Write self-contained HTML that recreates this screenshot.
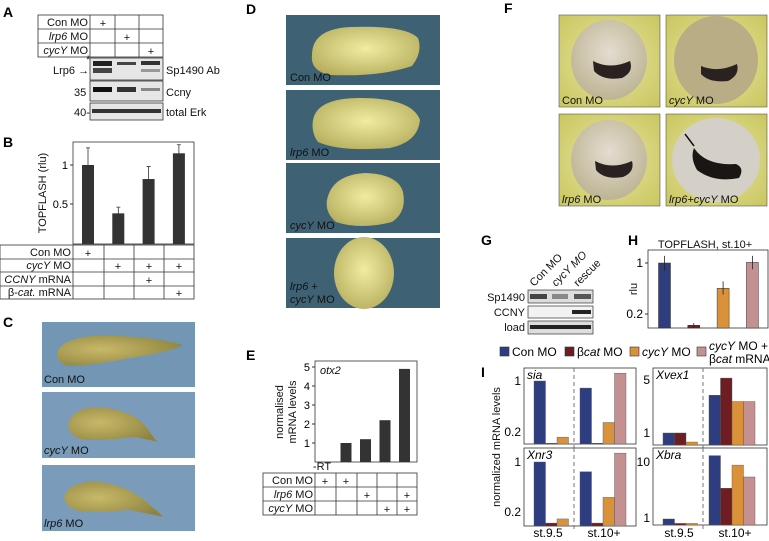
<!DOCTYPE html>
<html><head><meta charset="utf-8"><style>
body{margin:0;background:#fff;width:769px;height:541px;overflow:hidden}
svg{display:block;font-family:"Liberation Sans",sans-serif}
text{font-family:"Liberation Sans",sans-serif}
.lab{font-weight:bold;font-size:14px}
.t{font-size:11px;fill:#111}
.it{font-style:italic}
</style></head><body>
<svg id="fig" width="769" height="541" viewBox="0 0 769 541" xmlns="http://www.w3.org/2000/svg">
<defs>
<radialGradient id="emb" cx="50%" cy="45%" r="60%"><stop offset="0" stop-color="#f0eca0"/><stop offset="1" stop-color="#b8b060"/></radialGradient>
<radialGradient id="tad" cx="35%" cy="45%" r="70%"><stop offset="0" stop-color="#c8b868"/><stop offset="1" stop-color="#8e8440"/></radialGradient>
<radialGradient id="fbg" cx="50%" cy="50%" r="70%"><stop offset="0" stop-color="#e8e6a0"/><stop offset="1" stop-color="#c9c660"/></radialGradient>
<radialGradient id="fem" cx="50%" cy="40%" r="60%"><stop offset="0" stop-color="#e4ddd0"/><stop offset="1" stop-color="#bdb494"/></radialGradient>
</defs>

<text class="lab" x="3" y="17">A</text>
<text class="lab" x="3" y="147">B</text>
<text class="lab" x="3" y="327">C</text>
<text class="lab" x="246" y="14">D</text>
<text class="lab" x="246" y="360">E</text>
<text class="lab" x="504" y="13">F</text>
<text class="lab" x="481" y="245">G</text>
<text class="lab" x="628" y="245">H</text>
<text class="lab" x="481" y="377">I</text>

<g stroke="#333" stroke-width="0.8" fill="none">
<rect x="38" y="15" width="125" height="42"/>
<line x1="38" y1="29" x2="163" y2="29"/><line x1="38" y1="43" x2="163" y2="43"/>
<line x1="90" y1="15" x2="90" y2="57"/><line x1="115" y1="15" x2="115" y2="57"/><line x1="139" y1="15" x2="139" y2="57"/>
</g>
<text class="t" x="88" y="26" text-anchor="end">Con MO</text>
<text class="t" x="88" y="40" text-anchor="end"><tspan class="it">lrp6</tspan> MO</text>
<text class="t" x="88" y="54" text-anchor="end"><tspan class="it">cycY</tspan> MO</text>
<text class="t" x="103" y="27" text-anchor="middle">+</text>
<text class="t" x="127" y="41" text-anchor="middle">+</text>
<text class="t" x="151" y="55" text-anchor="middle">+</text>
<g>
<rect x="90" y="58" width="73" height="22" fill="#e6e6e6" stroke="#333" stroke-width="0.8"/>
<rect x="93" y="61" width="19" height="5" fill="#222"/><rect x="117" y="62" width="19" height="3" fill="#444"/><rect x="141" y="61" width="19" height="4" fill="#333"/>
<rect x="93" y="68" width="19" height="5" fill="#444"/><rect x="141" y="69" width="19" height="3" fill="#999"/>
<rect x="90" y="81" width="73" height="20" fill="#e6e6e6" stroke="#333" stroke-width="0.8"/>
<rect x="93" y="87" width="19" height="5" fill="#111"/><rect x="117" y="87" width="19" height="5" fill="#333"/><rect x="141" y="88" width="19" height="3" fill="#888"/>
<rect x="90" y="103" width="73" height="17" fill="#e6e6e6" stroke="#333" stroke-width="0.8"/>
<rect x="92" y="109" width="69" height="4" fill="#333"/>
</g>
<text class="t" x="166" y="74">Sp1490 Ab</text>
<text class="t" x="166" y="96">Ccny</text>
<text class="t" x="166" y="116">total Erk</text>
<text class="t" x="53" y="74">Lrp6 →</text>
<text class="t" x="74" y="96">35</text>
<text class="t" x="74" y="116">40-</text>
<text class="t" x="86" y="63" font-size="9">*</text>

<g id="chartB">
<rect x="73" y="142" width="121" height="102" fill="none" stroke="#333" stroke-width="0.8"/>
<text class="t" x="46" y="193" text-anchor="middle" transform="rotate(-90 46 193)">TOPFLASH (rlu)</text>
</g>
<g stroke="#333" stroke-width="0.8" fill="none">
<rect x="0" y="245" width="194" height="54"/>
<line x1="0" y1="259" x2="194" y2="259"/><line x1="0" y1="272" x2="194" y2="272"/><line x1="0" y1="286" x2="194" y2="286"/>
<line x1="73" y1="245" x2="73" y2="299"/><line x1="104" y1="245" x2="104" y2="299"/><line x1="134" y1="245" x2="134" y2="299"/><line x1="164" y1="245" x2="164" y2="299"/>
</g>
<text class="t" x="71" y="256" text-anchor="end">Con MO</text>
<text class="t" x="71" y="269" text-anchor="end"><tspan class="it">cycY</tspan> MO</text>
<text class="t" x="71" y="283" text-anchor="end"><tspan class="it">CCNY</tspan> mRNA</text>
<text class="t" x="71" y="296" text-anchor="end">β-<tspan class="it">cat.</tspan> mRNA</text>
<text class="t" x="88" y="257" text-anchor="middle">+</text>
<text class="t" x="118" y="270" text-anchor="middle">+</text><text class="t" x="149" y="270" text-anchor="middle">+</text><text class="t" x="179" y="270" text-anchor="middle">+</text>
<text class="t" x="149" y="284" text-anchor="middle">+</text>
<text class="t" x="179" y="297" text-anchor="middle">+</text>

<g>
<rect x="42" y="322" width="153" height="65" fill="#7396b4"/>
<path d="M58 350 Q70 333 120 336 Q160 338 183 345 Q170 352 130 358 Q90 366 68 366 Q55 362 58 350Z" fill="url(#tad)"/>
<text class="t" x="44" y="383" fill="#1b2a3a">Con MO</text>
<rect x="42" y="392" width="153" height="66" fill="#7a9cba"/>
<path d="M68 425 Q72 407 100 407 Q130 410 145 425 Q155 440 158 442 Q150 440 135 437 Q110 440 90 440 Q70 440 68 425Z" fill="url(#tad)"/>
<text class="t" x="44" y="454"><tspan class="it">cycY</tspan> MO</text>
<rect x="42" y="465" width="153" height="66" fill="#7a9cba"/>
<path d="M64 497 Q70 480 100 482 Q130 486 150 505 Q162 515 163 517 Q150 514 130 510 Q105 512 85 512 Q66 510 64 497Z" fill="url(#tad)"/>
<text class="t" x="44" y="527"><tspan class="it">lrp6</tspan> MO</text>
</g>

<g>
<rect x="286" y="15" width="154" height="70" fill="#3e6174"/>
<path d="M312 55 Q312 29 350 27 Q405 25 418 38 Q423 52 412 66 Q380 77 330 75 Q310 71 312 55Z" fill="url(#emb)"/>
<text class="t" x="290" y="81" fill="#fff">Con MO</text>
<rect x="286" y="90" width="154" height="70" fill="#3e6174"/>
<path d="M313 120 Q317 98 360 98 Q412 98 420 120 Q418 142 390 148 Q340 152 318 142 Q311 133 313 120Z" fill="url(#emb)"/>
<text class="t" x="290" y="156" fill="#fff"><tspan class="it">lrp6</tspan> MO</text>
<rect x="286" y="163" width="154" height="70" fill="#3e6174"/>
<path d="M327 200 Q332 175 365 173 Q398 174 403 192 Q407 212 392 222 Q360 230 336 222 Q325 213 327 200Z" fill="url(#emb)"/>
<text class="t" x="290" y="229" fill="#fff"><tspan class="it">cycY</tspan> MO</text>
<rect x="286" y="238" width="154" height="70" fill="#3e6174"/>
<ellipse cx="364" cy="273" rx="30" ry="36" fill="url(#emb)"/>
<text class="t" x="290" y="290" fill="#fff"><tspan class="it">lrp6</tspan> +</text>
<text class="t" x="290" y="303" fill="#fff"><tspan class="it">cycY</tspan> MO</text>
</g>

<g id="chartE">
<rect x="315" y="361" width="102" height="101" fill="none" stroke="#333" stroke-width="0.8"/>
<text class="t it" x="320" y="374">otx2</text>
<text class="t" x="283" y="412" text-anchor="middle" transform="rotate(-90 283 412)">normalised</text>
<text class="t" x="296" y="412" text-anchor="middle" transform="rotate(-90 296 412)">mRNA levels</text>
<text class="t" x="322" y="470" font-size="9" text-anchor="middle">-RT</text>
</g>
<g stroke="#333" stroke-width="0.8" fill="none">
<rect x="263" y="473" width="154" height="42"/>
<line x1="263" y1="487" x2="417" y2="487"/><line x1="263" y1="501" x2="417" y2="501"/>
<line x1="315" y1="473" x2="315" y2="515"/><line x1="336" y1="473" x2="336" y2="515"/><line x1="357" y1="473" x2="357" y2="515"/><line x1="377" y1="473" x2="377" y2="515"/><line x1="397" y1="473" x2="397" y2="515"/>
</g>
<text class="t" x="313" y="484" text-anchor="end">Con MO</text>
<text class="t" x="313" y="498" text-anchor="end"><tspan class="it">lrp6</tspan> MO</text>
<text class="t" x="313" y="512" text-anchor="end"><tspan class="it">cycY</tspan> MO</text>
<text class="t" x="325" y="485" text-anchor="middle">+</text><text class="t" x="346" y="485" text-anchor="middle">+</text>
<text class="t" x="367" y="499" text-anchor="middle">+</text><text class="t" x="407" y="499" text-anchor="middle">+</text>
<text class="t" x="387" y="513" text-anchor="middle">+</text><text class="t" x="407" y="513" text-anchor="middle">+</text>

<g>
<rect x="559" y="15" width="101" height="92" fill="url(#fbg)" stroke="#555" stroke-width="0.6"/>
<ellipse cx="609" cy="60" rx="38" ry="40" fill="url(#fem)"/>
<path d="M593 61 Q610 70 630 61 Q634 72 622 78 Q603 81 594 71Z" fill="#2a2220"/>
<text class="t" x="562" y="104">Con MO</text>
<rect x="666" y="15" width="101" height="92" fill="url(#fbg)" stroke="#555" stroke-width="0.6"/>
<ellipse cx="716" cy="60" rx="42" ry="44" fill="#b8ad84"/>
<path d="M701 66 Q718 73 737 64 Q740 75 728 81 Q709 83 701 74Z" fill="#2a2220"/>
<text class="t" x="669" y="104"><tspan class="it">cycY</tspan> MO</text>
<rect x="559" y="114" width="101" height="92" fill="url(#fbg)" stroke="#555" stroke-width="0.6"/>
<ellipse cx="609" cy="160" rx="38" ry="40" fill="url(#fem)"/>
<path d="M595 161 Q612 170 632 161 Q635 172 623 177 Q604 180 596 170Z" fill="#2a2220"/>
<text class="t" x="562" y="203"><tspan class="it">lrp6</tspan> MO</text>
<rect x="666" y="114" width="101" height="92" fill="url(#fbg)" stroke="#555" stroke-width="0.6"/>
<ellipse cx="716" cy="160" rx="44" ry="42" fill="#d4d0c8"/>
<path d="M694 148 Q706 166 736 164 Q745 168 739 178 Q714 183 697 170 Q690 158 694 148Z" fill="#1a1614"/>
<line x1="685" y1="134" x2="694" y2="146" stroke="#111" stroke-width="1.5"/>
<text class="t" x="669" y="203"><tspan class="it">lrp6+cycY</tspan> MO</text>
</g>

<g>
<text class="t" transform="translate(534 287) rotate(-45)">Con MO</text>
<text class="t it" transform="translate(556 287) rotate(-45)">cycY MO</text>
<text class="t" transform="translate(578 287) rotate(-45)">rescue</text>
<rect x="528" y="290" width="65" height="13" fill="#ddd" stroke="#333" stroke-width="0.7"/>
<rect x="530" y="294" width="17" height="5" fill="#444"/><rect x="552" y="294" width="16" height="5" fill="#888"/><rect x="574" y="294" width="17" height="5" fill="#555"/>
<rect x="528" y="306" width="65" height="12" fill="#f2f2f2" stroke="#333" stroke-width="0.7"/>
<rect x="572" y="310" width="19" height="4" fill="#222"/>
<rect x="528" y="321" width="65" height="13" fill="#ddd" stroke="#333" stroke-width="0.7"/>
<rect x="530" y="325" width="61" height="4" fill="#222"/>
</g>
<text class="t" x="525" y="301" text-anchor="end">Sp1490</text>
<text class="t" x="525" y="316" text-anchor="end">CCNY</text>
<text class="t" x="525" y="331" text-anchor="end">load</text>

<g id="chartH">
<text class="t" x="705" y="248" text-anchor="middle" font-size="12">TOPFLASH, st.10+</text>
<rect x="648" y="250" width="120" height="78" fill="none" stroke="#333" stroke-width="0.8"/>
<text class="t" x="637" y="289" text-anchor="middle" transform="rotate(-90 637 289)">rlu</text>
</g>

<g>
<g><rect x="500" y="347" width="9" height="9" fill="#2e3d80" stroke="#333" stroke-width="0.6"/><text x="512" y="356" font-size="12">Con MO</text></g>
<g><rect x="565" y="347" width="9" height="9" fill="#6e1e22" stroke="#333" stroke-width="0.6"/><text x="577" y="356" font-size="12">β<tspan font-style="italic">cat</tspan> MO</text></g>
<g><rect x="630" y="347" width="9" height="9" fill="#d9923a" stroke="#333" stroke-width="0.6"/><text x="642" y="356" font-size="12"><tspan font-style="italic">cycY</tspan> MO</text></g>
<g><rect x="697" y="347" width="9" height="9" fill="#c49090" stroke="#333" stroke-width="0.6"/><text x="709" y="350" font-size="12"><tspan font-style="italic">cycY</tspan> MO +</text><text x="709" y="363" font-size="12">β<tspan font-style="italic">cat</tspan> mRNA</text></g>
</g>

<g id="chartI">
<text class="t" x="500" y="447" text-anchor="middle" transform="rotate(-90 500 447)">normalized mRNA levels</text>
<text x="548" y="537" font-size="12" text-anchor="middle">st.9.5</text>
<text x="604" y="537" font-size="12" text-anchor="middle">st.10+</text>
<text x="679" y="537" font-size="12" text-anchor="middle">st.9.5</text>
<text x="735" y="537" font-size="12" text-anchor="middle">st.10+</text>
</g>
</svg>
<script>
var bValues = [1, 0.38, 0.82, 1.15];
var bErrHi = [1.22, 0.46, 0.98, 1.26];
var bErrLo = [0.78, 0.30, 0.64, 1.02];
var bTicks = [0.5, 1];
var bTickLabels = ["0.5", "1"];

var eCategories = ["-RT", "con", "lrp6", "cycY", "lrp6+cycY"];
var eValues = [0, 1, 1.2, 2.2, 4.9];
var eTicks = [1, 2, 3, 4, 5];

var hCategories = ["Con MO", "bcat MO", "cycY MO", "rescue"];
var hValues = [1, 0.14, 0.45, 1.02];
var hErrHi = [1.25, 0.15, 0.56, 1.25];
var hErrLo = [0.78, 0.13, 0.37, 0.82];
var hTicks = [0.2, 1];

var iColors = ["#2e3d80", "#6e1e22", "#d9923a", "#c49090"];
var siaSt95 = [1, 0.14, 0.17];
var siaSt10 = [0.8, 0.14, 0.27, 1.28];
var xnr3St95 = [1, 0.14, 0.16];
var xnr3St10 = [0.73, 0.14, 0.32, 1.33];
var xvexSt95 = [1.0, 1.0, 0.76];
var xvexSt10 = [3.15, 5.3, 2.6, 2.6];
var xbraSt95 = [0.96, 0.8, 0.8];
var xbraSt10 = [13, 3.4, 8.8, 5.4];
var siaTicks = [0.2, 1];
var xnr3Ticks = [0.2, 1];
var xvexTicks = [1, 5];
var xbraTicks = [1, 10];

var NS = "http://www.w3.org/2000/svg";
function el(parent, tag, attrs) {
  var e = document.createElementNS(NS, tag);
  for (var k in attrs) e.setAttribute(k, attrs[k]);
  parent.appendChild(e);
  return e;
}

(function () {
  var g = document.getElementById("chartB");
  var y0 = 243, ppu = 78;
  function y(v) { return y0 - v * ppu; }
  function x(i) { return 88 + i * 30.3; }
  bTicks.forEach(function (t, i) {
    var tk = el(g, "line", {x1: 70, x2: 73, y1: y(t), y2: y(t), stroke: "#333"});
    
    
    var lb = el(g, "text", {x: 68, y: y(t) + 4, "text-anchor": "end", "font-size": 11});
    lb.textContent = bTickLabels[i];
    
    
  });
  bValues.forEach(function (v, i) {
    var r = el(g, "rect", {x: x(i) - 6, y: y(v), width: 12, height: y0 - y(v) + 1, fill: "#333"});
    
    
    var eb = el(g, "path", {d: "M" + x(i) + " " + y(bErrHi[i]) + "V" + y(bErrLo[i]) + "M" + (x(i) - 2) + " " + y(bErrHi[i]) + "h4M" + (x(i) - 2) + " " + y(bErrLo[i]) + "h4", stroke: "#333", "stroke-width": 0.8, fill: "none"});
    
    
  });
})();

(function () {
  var g = document.getElementById("chartE");
  var y0 = 462, ppu = 19;
  function y(v) { return y0 - v * ppu; }
  function x(i) { return 326 + i * 19.5; }
  eTicks.forEach(function (t) {
    var tk = el(g, "line", {x1: 312, x2: 315, y1: y(t), y2: y(t), stroke: "#333"});
    
    
    var lb = el(g, "text", {x: 310, y: y(t) + 4, "text-anchor": "end", "font-size": 11});
    lb.textContent = t;
    
    
  });
  eValues.forEach(function (v, i) {
    if (v <= 0) return;
    var r = el(g, "rect", {x: x(i) - 5, y: y(v), width: 11, height: y0 - y(v), fill: "#333"});
    
    
  });
})();

(function () {
  var g = document.getElementById("chartH");
  var yA = 263, yB = 314, vA = 1, vB = 0.2;
  var ppd = (yB - yA) / (Math.log10(vA) - Math.log10(vB));
  function y(v) { return yA - (Math.log10(v) - Math.log10(vA)) * ppd; }
  function x(i) { return 664.5 + i * 29.3; }
  var bottom = 328;
  hTicks.forEach(function (t) {
    var tk = el(g, "line", {x1: 645, x2: 648, y1: y(t), y2: y(t), stroke: "#333"});
    
    
    var lb = el(g, "text", {x: 643, y: y(t) + 4, "text-anchor": "end", "font-size": 12});
    lb.textContent = t;
    
    
  });
  hValues.forEach(function (v, i) {
    var r = el(g, "rect", {x: x(i) - 6, y: y(v), width: 12, height: bottom - y(v), fill: iColors[i], stroke: "#333", "stroke-width": 0.5});
    
    
    var eb = el(g, "path", {d: "M" + x(i) + " " + y(hErrHi[i]) + "V" + y(hErrLo[i]), stroke: "#222", "stroke-width": 0.8});
    
    
  });
})();

function panelI(name, x0, x1, top, bot, dashX, tA, yA, tB, yB, ticks, v95, v10) {
  var g = document.getElementById("chartI");
  var ppd = (yB - yA) / (Math.log10(tA) - Math.log10(tB));
  function y(v) { return Math.min(bot, yA - (Math.log10(v) - Math.log10(tA)) * ppd); }
  var box = el(g, "rect", {x: x0, y: top, width: x1 - x0, height: bot - top, fill: "none", stroke: "#333", "stroke-width": 0.8});
  
  
  var d = el(g, "line", {x1: dashX, x2: dashX, y1: top, y2: bot + 6, stroke: "#777", "stroke-dasharray": "4 3"});
  
  
  var tt = el(g, "text", {x: x0 + 3, y: top + 11, "font-size": 12, "font-style": "italic"});
  tt.textContent = name;
  
  
  ticks.forEach(function (t) {
    var lb = el(g, "text", {x: x0 - 3, y: y(t) + 4, "text-anchor": "end", "font-size": 12});
    lb.textContent = t;
    
    
  });
  var bw = 11.5;
  v95.forEach(function (v, i) {
    var r = el(g, "rect", {x: x0 + 10 + i * bw, y: y(v), width: bw, height: bot - y(v), fill: iColors[i], stroke: "#555", "stroke-width": 0.4});
    
    
  });
  v10.forEach(function (v, i) {
    var r = el(g, "rect", {x: dashX + 6 + i * bw, y: y(v), width: bw, height: bot - y(v), fill: iColors[i], stroke: "#555", "stroke-width": 0.4});
    
    
  });
}
panelI("sia", 524, 636, 368, 444, 574, 1, 381, 0.2, 432, siaTicks, siaSt95, siaSt10);
panelI("Xnr3", 524, 636, 448, 526, 574, 1, 462, 0.2, 512, xnr3Ticks, xnr3St95, xnr3St10);
panelI("Xvex1", 653, 767, 368, 445, 703, 5, 380, 1, 433, xvexTicks, xvexSt95, xvexSt10);
panelI("Xbra", 653, 767, 448, 525, 703, 10, 462, 1, 518, xbraTicks, xbraSt95, xbraSt10);
</script>
</body></html>
